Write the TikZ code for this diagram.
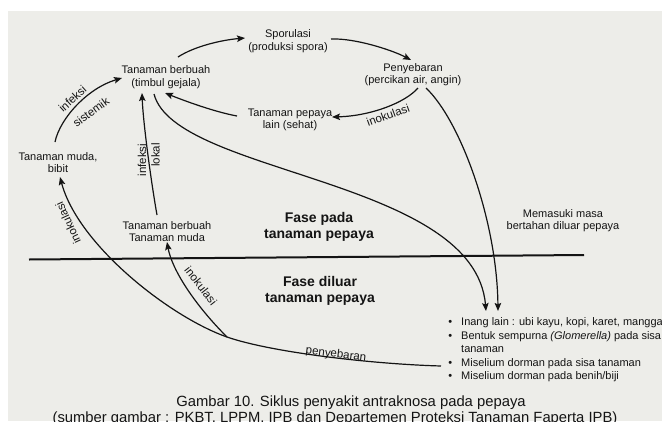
\documentclass[tikz,border=0pt]{standalone}
\usepackage{fontspec}
\setmainfont{Liberation Sans}
\usetikzlibrary{arrows.meta}
\definecolor{bgc}{RGB}{237,237,233}
\definecolor{ink}{RGB}{20,20,20}
\begin{document}
\begin{tikzpicture}[x=1pt,y=-1pt,
  lbl/.style={font=\fontsize{11}{12.5}\selectfont, align=center, inner sep=0pt, text=ink},
  fase/.style={font=\fontsize{14}{16.5}\selectfont\bfseries, align=center, inner sep=0pt, text=ink},
  plbl/.style={font=\fontsize{11.5}{13}\selectfont, inner sep=0pt, text=ink},
  itm/.style={font=\fontsize{11}{12.5}\selectfont, inner sep=0pt, anchor=base west, text=ink},
  captxt/.style={font=\fontsize{14.8}{17}\selectfont, inner sep=0pt, anchor=base, text=ink},
  conn/.style={draw=ink, line width=1.2pt, -{Stealth[length=8pt,width=6.5pt,inset=1.5pt]}},
  sepline/.style={draw=ink, line width=2pt}]
\fill[white] (0,0) rectangle (662,421);
\fill[bgc] (8,11) rectangle (662,421);
\useasboundingbox (0,0) rectangle (662,421);

% nodes
\node[lbl] (spor) at (288,41) {Sporulasi\\(produksi spora)};
\node[lbl] (tb) at (166,77) {Tanaman berbuah\\(timbul gejala)};
\node[lbl] (peny) at (413,74.5) {Penyebaran\\(percikan air, angin)};
\node[lbl] (pep) at (290,120) {Tanaman pepaya\\lain (sehat)};
\node[lbl] (muda) at (58,162.5) {Tanaman muda,\\bibit};
\node[lbl] (tbm) at (167,231.5) {Tanaman berbuah\\Tanaman muda};
\node[lbl] (mem) at (563,220.5) {Memasuki masa\\bertahan diluar pepaya};
\node[fase] (fp) at (319,227) {Fase pada\\tanaman pepaya};
\node[fase] (fd) at (320,291) {Fase diluar\\tanaman pepaya};

\node[itm] (l1) at (461,325) {\makebox[0pt][r]{\textbullet\hspace{9pt}}Inang lain : ubi kayu, kopi, karet, mangga};
\node[itm] (l2) at (461,339) {\makebox[0pt][r]{\textbullet\hspace{9pt}}Bentuk sempurna \textit{(Glomerella)} pada sisa};
\node[itm] (l3) at (461,352) {tanaman};
\node[itm] (l4) at (461,366) {\makebox[0pt][r]{\textbullet\hspace{9pt}}Miselium dorman pada sisa tanaman};
\node[itm] (l5) at (461,379) {\makebox[0pt][r]{\textbullet\hspace{9pt}}Miselium dorman pada benih/biji};

\node[captxt] (cap1) at (351,406.5) {Gambar 10. Siklus penyakit antraknosa pada pepaya};
\node[captxt] (cap2) at (335,422.5) {(sumber gambar : PKBT, LPPM, IPB dan Departemen Proteksi Tanaman Faperta IPB)};

% separator line
\coordinate (sepL) at (29,259.5);
\coordinate (sepR) at (584,255);
\draw[sepline] (sepL) -- (sepR);

% connectors
\draw[conn] ([shift={(12,-20)}]tb.center) .. controls (195,46) and (222,40) .. ([shift={(-43,-3)}]spor.center);
\draw[conn] ([shift={(43,-2)}]spor.center) .. controls (355,38) and (392,50) .. ([shift={(-2,-14.5)}]peny.center);
\draw[conn] ([shift={(5,13.5)}]peny.center) .. controls (405,103) and (370,116) .. ([shift={(42,-3)}]pep.center);
\draw[conn] ([shift={(-53,-4)}]pep.center) .. controls (215,112) and (185,101) .. ([shift={(-1,16)}]tb.center);
\draw[conn] ([shift={(-3,-20.5)}]muda.center) .. controls (60,118) and (88,88) .. ([shift={(-44,1)}]tb.center);
\draw[conn] ([shift={(-10,-16.5)}]tbm.center) .. controls (150,175) and (143,120) .. ([shift={(-24,16)}]tb.center);
\draw[conn] ([shift={(-12,17)}]tb.center) .. controls (175,175) and (475,178) .. ([shift={(25,-14)}]l1.base west);
\draw[conn] ([shift={(13,13.5)}]peny.center) .. controls (460,120) and (497,220) .. ([shift={(37,-14)}]l1.base west);
\coordinate (jn) at (227,337);
\draw[conn] ([shift={(-20,0)}]l4.base west) .. controls (370,364) and (270,352) .. (jn) .. controls (170,317) and (78,245) .. ([shift={(2,14.5)}]muda.center);
\draw[conn] (jn) .. controls (195,305) and (172,270) .. ([shift={(0,10.5)}]tbm.center);

% connector labels
\node[plbl, rotate=20] (lin1) at (388,115) {inokulasi};
\node[plbl, rotate=42] (lis1) at (72.5,99) {infeksi};
\node[plbl, rotate=36] (lis2) at (91,112) {sistemik};
\node[plbl, rotate=90] (lil1) at (142,160) {infeksi};
\node[plbl, rotate=90] (lil2) at (155.5,155) {lokal};
\node[plbl, rotate=115] (lin2) at (68,223) {inokulasi};
\node[plbl, rotate=-52] (lin3) at (201,286) {inokulasi};
\node[plbl, rotate=-7] (lpeny) at (336,354.5) {penyebaran};
\end{tikzpicture}
\end{document}
